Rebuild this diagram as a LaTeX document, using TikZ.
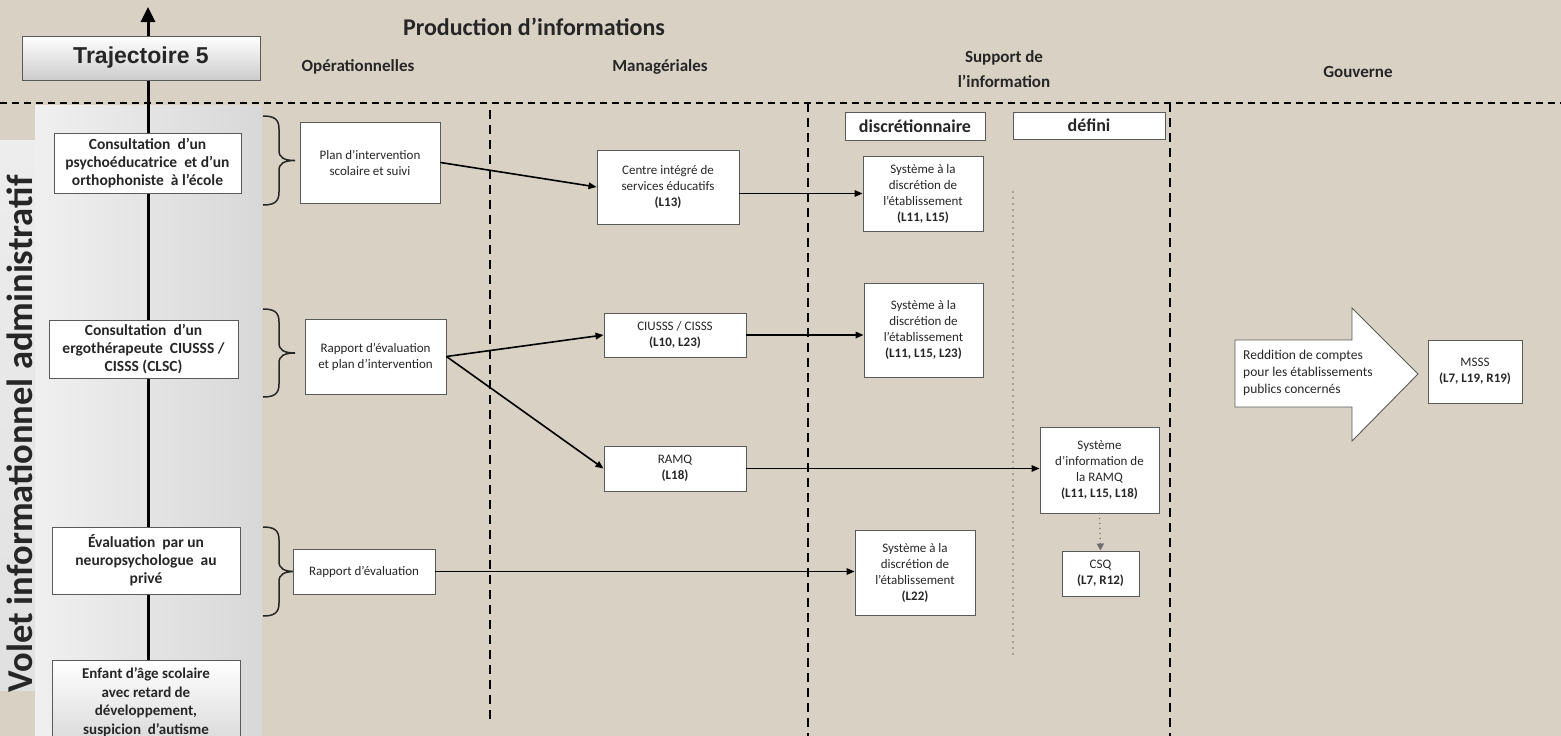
\documentclass[tikz,border=0pt]{standalone}
\usepackage{fontspec}
\setmainfont{Carlito}
\newfontfamily\arialfont{Liberation Sans}
\usetikzlibrary{arrows.meta}
\definecolor{bg}{HTML}{D9D1C4}
\definecolor{band}{HTML}{D8D8D8}
\definecolor{txt}{HTML}{262626}
\definecolor{bord}{HTML}{5A5A5A}
\definecolor{dotc}{HTML}{6E6E70}
\newcommand{\mybrace}[2]{%
  \draw[line width=1.5pt, txt]
    (263,#1) .. controls (274,#1) and (279,{#1+3}) .. (279,{#1+13})
    -- (279,{(#1+#2)/2-10}) .. controls (279,{(#1+#2)/2-3}) and (284,{(#1+#2)/2}) .. (295,{(#1+#2)/2})
    .. controls (284,{(#1+#2)/2}) and (279,{(#1+#2)/2+3}) .. (279,{(#1+#2)/2+10})
    -- (279,{#2-13}) .. controls (279,{#2-3}) and (274,#2) .. (263,#2);}
\begin{document}
\begin{tikzpicture}[x=1pt,y=-1pt,
  box/.style={draw=bord, fill=white, line width=0.9pt, inner sep=0pt, align=center, text=txt},
  lbox/.style={box, font=\bfseries\fontsize{15.5}{18}\selectfont},
  sbox/.style={box, font=\fontsize{13}{16}\selectfont},
  hbox/.style={box, font=\bfseries\fontsize{18}{20}\selectfont},
  hdr/.style={font=\bfseries\fontsize{17}{25}\selectfont, text=txt, align=center},
  flow/.style={line width=1.6pt, draw=black, -{Triangle[length=8pt,width=6.5pt]}},
  sep/.style={line width=1.8pt, dash pattern=on 9pt off 6pt},
]
\useasboundingbox (0,0) rectangle (1561,736);
% background
\fill[bg] (0,0) rectangle (1561,736);
\shade[left color=gray!12, right color=band] (35,105) rectangle (262,736);
\shade[top color=gray!14, bottom color=gray!24] (0,140) rectangle (35,690);

% separators
\draw[line width=1.4pt, dash pattern=on 7pt off 5pt] (0,103) -- (1561,103);
\draw[sep] (490,110) -- (490,722);
\draw[sep] (808,103) -- (808,736);
\draw[sep] (1170,103) -- (1170,736);
\draw[dotc, line width=1.6pt, line cap=round, dash pattern=on 0pt off 6pt] (1013,192) -- (1013,655);

% vertical axis
\coordinate (axbot) at (148,736);
\coordinate (axtop) at (148,7);
\draw[line width=3pt, -{Triangle[length=15pt,width=14pt]}] (axbot) -- (axtop);

% titles
\node[font=\bfseries\fontsize{24}{28}\selectfont, text=txt] (prod) at (534,27) {Production d’informations};
\node[hdr] (hop) at (358,67) {Opérationnelles};
\node[hdr] (hman) at (660,67) {Managériales};
\node[hdr] (hsup) at (1004,69) {Support de\\l’information};
\node[hdr] (hgov) at (1358,72) {Gouverne};

\node[draw=bord, line width=0.9pt, top color=white, bottom color=gray!40, minimum width=238pt, minimum height=44pt, inner sep=0pt,
      font=\arialfont\bfseries\fontsize{23}{26}\selectfont, text=txt] (traj) at (141,58) {Trajectoire 5};

\node[rotate=90, font=\bfseries\fontsize{36.5}{38}\selectfont, text=txt] (volet) at (20,434) {Volet informationnel administratif};

% left boxes
\node[lbox, minimum width=187pt, minimum height=60pt] (L1) at (147.5,163) {Consultation\ \ d’un\\psychoéducatrice\ \ et d’un\\orthophoniste\ \ à l'école};
\node[lbox, minimum width=189pt, minimum height=58pt] (L2) at (143.5,349) {Consultation\ \ d’un\\ergothérapeute\ \ CIUSSS /\\CISSS (CLSC)};
\node[lbox, minimum width=188pt, minimum height=67pt] (L3) at (146,560.5) {Évaluation\ \ par un\\neuropsychologue\ \ au\\privé};
\node[lbox, top color=white, bottom color=gray!30, minimum width=188pt, minimum height=84pt, font=\bfseries\fontsize{15}{18.5}\selectfont] (L4) at (146,702) {Enfant d’âge scolaire\\avec retard de\\développement,\\suspicion\ \ d'autisme};

% braces
\mybrace{116}{205}
\mybrace{309}{397}
\mybrace{527}{616}

% operational
\node[sbox, minimum width=140pt, minimum height=81pt] (a) at (370,162.5) {Plan d’intervention\\scolaire et suivi};
\node[sbox, minimum width=141pt, minimum height=75pt] (b) at (375.5,356.5) {Rapport d’évaluation\\et plan d’intervention};
\node[sbox, minimum width=142pt, minimum height=45pt] (c) at (364,571.5) {Rapport d’évaluation};

% managerial
\node[sbox, minimum width=142pt, minimum height=74pt] (d) at (668,187) {Centre intégré de\\services éducatifs\\\textbf{(L13)}};
\node[sbox, minimum width=142pt, minimum height=44pt] (e) at (675,335) {CIUSSS / CISSS\\\textbf{(L10, L23)}};
\node[sbox, minimum width=142pt, minimum height=45pt] (f) at (675,468.5) {RAMQ\\\textbf{(L18)}};

% support
\node[hbox, minimum width=140pt, minimum height=28pt] (disc) at (915,126) {discrétionnaire};
\node[hbox, minimum width=152pt, minimum height=27pt] (def) at (1089,125.5) {défini};
\node[sbox, minimum width=120pt, minimum height=75pt] (g) at (923,193.5) {Système à la\\discrétion de\\l’établissement\\\textbf{(L11, L15)}};
\node[sbox, minimum width=119pt, minimum height=94pt] (h) at (923.5,330) {Système à la\\discrétion de\\l’établissement\\\textbf{(L11, L15, L23)}};
\node[sbox, minimum width=120pt, minimum height=85pt] (i) at (915,572.5) {Système à la\\discrétion de\\l’établissement\\\textbf{(L22)}};
\node[sbox, minimum width=119pt, minimum height=86pt] (j) at (1099.5,470) {Système\\d’information de\\la RAMQ\\\textbf{(L11, L15, L18)}};
\node[sbox, minimum width=77pt, minimum height=45pt] (k) at (1100.5,573.5) {CSQ\\\textbf{(L7, R12)}};

% governance
\draw[draw=bord, fill=white, line width=0.9pt] (1235,340) -- (1352,340) -- (1352,308) -- (1418,374) -- (1352,441) -- (1352,407) -- (1235,407) -- cycle;
\node[anchor=west, align=left, text=txt, font=\fontsize{13.5}{17}\selectfont, inner sep=0pt] (redd) at (1243,373) {Reddition de comptes\\pour les établissements\\publics concernés};
\node[sbox, minimum width=94pt, minimum height=63pt] (msss) at (1475,371.5) {MSSS\\\textbf{(L7, L19, R19)}};

% connectors
\draw[flow] (a.east) -- (d.west);
\draw[flow] (d.east |- g.west) -- (g.west);
\draw[flow] (b.east) -- (e.west);
\draw[flow] (b.east) -- (f.west);
\draw[flow] (e.east) -- (e.east -| h.west);
\draw[flow] (f.east) -- (f.east -| j.west);
\draw[flow] (c.east) -- (c.east -| i.west);
\draw[dotc, line width=1.6pt, dash pattern=on 0pt off 5pt, line cap=round, -{Triangle[length=7pt,width=7pt,line cap=butt]}] (j.south) -- (k.north);
\end{tikzpicture}
\end{document}
